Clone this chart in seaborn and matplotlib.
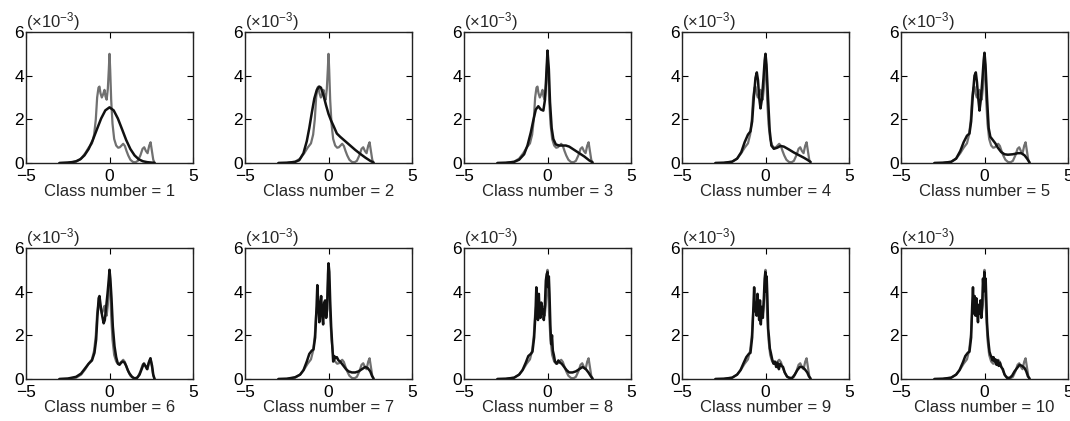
# Density curves vs. fitted mixtures for class numbers 1..10
import matplotlib
matplotlib.use("Agg")
import matplotlib.pyplot as plt
import seaborn as sns

sns.set_style("ticks")
plt.rcParams["font.family"] = ["Liberation Sans", "DejaVu Sans"]
plt.rcParams["mathtext.fontset"] = "custom"
plt.rcParams["mathtext.rm"] = "Liberation Sans"
plt.rcParams["mathtext.it"] = "Liberation Sans:italic"

# empirical density (gray), values in units of 1e-3
GRAY_X = [-3.0, -2.5, -2.0, -1.7, -1.45, -1.25, -1.05, -0.92, -0.82, -0.74, -0.66, -0.6, -0.54,
          -0.46, -0.38, -0.3, -0.24, -0.17, -0.1, -0.04, 0.0, 0.04, 0.1, 0.18, 0.28, 0.4, 0.52,
          0.62, 0.72, 0.82, 0.92, 1.02, 1.12, 1.25, 1.4, 1.55, 1.7, 1.85, 1.98, 2.08, 2.18, 2.28,
          2.38, 2.46, 2.54, 2.62, 2.7]
GRAY_Y = [0.0, 0.01, 0.06, 0.2, 0.45, 0.7, 0.9, 1.3, 2.0, 3.0, 3.45, 3.5, 3.2,
          3.0, 3.15, 3.35, 3.05, 2.9, 3.4, 4.3, 5.0, 4.3, 2.9, 1.8, 1.1, 0.8, 0.7,
          0.72, 0.8, 0.88, 0.78, 0.55, 0.35, 0.15, 0.05, 0.03, 0.1, 0.35, 0.65, 0.72, 0.55, 0.45,
          0.8, 0.95, 0.55, 0.15, 0.0]

# fitted curves (black), one per class number
FIT1_X = [-3.0, -2.75, -2.5, -2.25, -2.0, -1.75, -1.5, -1.25, -1.0, -0.75, -0.5, -0.25, 0.0,
          0.25, 0.5, 0.75, 1.0, 1.25, 1.5, 1.75, 2.0, 2.25, 2.5, 2.7]
FIT1_Y = [0.0, 0.01, 0.02, 0.04, 0.08, 0.17, 0.35, 0.64, 1.05, 1.55, 2.04, 2.41, 2.55,
          2.41, 2.04, 1.55, 1.05, 0.64, 0.35, 0.17, 0.08, 0.04, 0.02, 0.01]

FIT2_X = [-3.0, -2.5, -2.0, -1.75, -1.5, -1.3, -1.15, -1.0, -0.85, -0.7, -0.55, -0.45, -0.3,
          -0.15, 0.0, 0.15, 0.3, 0.5, 0.7, 1.0, 1.3, 1.6, 1.9, 2.2, 2.5, 2.7]
FIT2_Y = [0.0, 0.01, 0.05, 0.13, 0.45, 1.0, 1.6, 2.3, 2.95, 3.35, 3.5, 3.45, 3.1,
          2.65, 2.25, 1.95, 1.7, 1.35, 1.2, 1.0, 0.8, 0.6, 0.42, 0.25, 0.1, 0.02]

FIT3_X = [-3.0, -2.5, -2.0, -1.7, -1.4, -1.2, -1.0, -0.85, -0.7, -0.55, -0.4, -0.25, -0.15,
          -0.08, 0.0, 0.08, 0.15, 0.25, 0.35, 0.5, 0.7, 0.9, 1.1, 1.3, 1.6, 1.9, 2.2, 2.5, 2.7]
FIT3_Y = [0.0, 0.01, 0.05, 0.15, 0.4, 0.8, 1.4, 1.95, 2.45, 2.6, 2.45, 2.4, 2.9,
          3.9, 5.15, 4.3, 2.8, 1.6, 1.1, 0.85, 0.8, 0.8, 0.8, 0.75, 0.6, 0.45, 0.3, 0.12, 0.03]

FIT4_X = [-3.0, -2.5, -2.0, -1.7, -1.45, -1.25, -1.05, -0.9, -0.8, -0.7, -0.6, -0.52, -0.45,
          -0.38, -0.3, -0.22, -0.12, -0.05, 0.0, 0.06, 0.15, 0.25, 0.35, 0.5, 0.7, 0.9, 1.1,
          1.4, 1.7, 2.0, 2.3, 2.5, 2.7]
FIT4_Y = [0.0, 0.01, 0.06, 0.2, 0.5, 0.95, 1.3, 1.45, 1.9, 3.0, 3.9, 4.15, 3.8,
          3.0, 2.5, 2.9, 3.9, 4.7, 5.0, 4.5, 3.0, 1.5, 0.8, 0.65, 0.7, 0.78, 0.75,
          0.62, 0.48, 0.36, 0.24, 0.15, 0.05]

FIT5_X = [-3.0, -2.5, -2.0, -1.7, -1.45, -1.25, -1.05, -0.9, -0.8, -0.7, -0.6, -0.52, -0.45,
          -0.38, -0.3, -0.22, -0.12, -0.05, 0.0, 0.06, 0.15, 0.25, 0.35, 0.5, 0.65, 0.8, 1.0,
          1.2, 1.4, 1.7, 2.0, 2.2, 2.4, 2.55, 2.7]
FIT5_Y = [0.0, 0.01, 0.05, 0.2, 0.55, 0.95, 1.25, 1.35, 1.9, 3.1, 4.0, 4.15, 3.7,
          3.0, 2.4, 2.9, 3.9, 4.7, 5.05, 4.5, 3.0, 1.6, 1.2, 1.05, 0.9, 0.7, 0.5,
          0.4, 0.38, 0.4, 0.45, 0.45, 0.35, 0.2, 0.02]

FIT6_X = [-3.0, -2.5, -2.0, -1.7, -1.45, -1.25, -1.05, -0.9, -0.8, -0.72, -0.65, -0.6, -0.52,
          -0.44, -0.35, -0.28, -0.2, -0.12, -0.05, 0.0, 0.05, 0.12, 0.2, 0.3, 0.4, 0.5, 0.6,
          0.7, 0.8, 0.9, 1.0, 1.1, 1.2, 1.35, 1.5, 1.65, 1.8, 1.95, 2.05, 2.15, 2.25, 2.35,
          2.45, 2.55, 2.62, 2.7]
FIT6_Y = [0.0, 0.02, 0.1, 0.25, 0.5, 0.7, 0.85, 1.2, 1.8, 2.9, 3.7, 3.8, 3.3,
          2.9, 2.55, 2.7, 3.3, 3.9, 4.5, 5.0, 4.6, 3.7, 2.4, 1.5, 1.0, 0.7, 0.65,
          0.75, 0.8, 0.75, 0.6, 0.4, 0.25, 0.1, 0.03, 0.05, 0.2, 0.5, 0.7, 0.6, 0.45, 0.75,
          0.95, 0.6, 0.2, 0.0]

FIT7_X = [-3.0, -2.5, -2.0, -1.7, -1.5, -1.3, -1.15, -1.0, -0.9, -0.8, -0.72, -0.67, -0.6,
          -0.55, -0.5, -0.44, -0.38, -0.32, -0.26, -0.2, -0.14, -0.08, -0.03, 0.0, 0.05, 0.1,
          0.16, 0.22, 0.28, 0.35, 0.42, 0.5, 0.6, 0.7, 0.8, 0.9, 1.05, 1.2, 1.4, 1.6, 1.8,
          2.0, 2.2, 2.35, 2.5, 2.6, 2.7]
FIT7_Y = [0.0, 0.01, 0.08, 0.2, 0.4, 0.8, 1.15, 1.3, 1.35, 1.9, 3.2, 4.3, 3.3,
          2.6, 3.3, 3.8, 2.9, 2.5, 3.5, 3.6, 2.8, 3.2, 4.8, 5.3, 4.9, 3.6,
          2.4, 1.6, 0.8, 1.05, 0.95, 1.0, 0.85, 0.8, 0.7, 0.6, 0.45, 0.35, 0.3, 0.3, 0.35,
          0.45, 0.55, 0.5, 0.35, 0.15, 0.02]

FIT8_X = [-3.0, -2.5, -2.0, -1.7, -1.5, -1.3, -1.15, -1.0, -0.9, -0.8, -0.72, -0.67, -0.62,
          -0.57, -0.52, -0.47, -0.42, -0.37, -0.32, -0.27, -0.22, -0.16, -0.1, -0.05, 0.0,
          0.04, 0.08, 0.12, 0.17, 0.22, 0.27, 0.32, 0.38, 0.45, 0.55, 0.65, 0.75, 0.85, 1.0,
          1.15, 1.3, 1.5, 1.7, 1.9, 2.1, 2.3, 2.45, 2.6, 2.7]
FIT8_Y = [0.0, 0.01, 0.06, 0.2, 0.4, 0.75, 1.05, 1.15, 1.25, 1.9, 3.0, 4.2, 3.2,
          2.7, 3.9, 3.0, 2.8, 3.5, 3.0, 3.2, 2.7, 3.3, 4.5, 4.8, 4.9,
          4.2, 4.7, 3.9, 2.5, 1.6, 2.0, 1.3, 1.1, 0.8, 0.7, 0.85, 0.75, 0.7, 0.55,
          0.4, 0.3, 0.3, 0.35, 0.45, 0.55, 0.45, 0.3, 0.12, 0.02]

FIT9_X = [-3.0, -2.5, -2.0, -1.7, -1.5, -1.3, -1.15, -1.0, -0.9, -0.8, -0.73, -0.68, -0.63,
          -0.58, -0.53, -0.48, -0.43, -0.38, -0.33, -0.28, -0.22, -0.16, -0.1, -0.05, -0.01,
          0.03, 0.07, 0.11, 0.16, 0.21, 0.26, 0.32, 0.4, 0.48, 0.56, 0.64, 0.72, 0.8, 0.88,
          0.96, 1.05, 1.15, 1.3, 1.45, 1.6, 1.75, 1.9, 2.05, 2.2, 2.35, 2.5, 2.6, 2.7]
FIT9_Y = [0.0, 0.01, 0.06, 0.2, 0.4, 0.75, 1.0, 1.15, 1.2, 1.9, 3.2, 4.2, 3.1,
          3.4, 2.9, 3.9, 3.3, 2.7, 3.6, 2.5, 3.3, 2.8, 3.7, 4.6, 4.9,
          4.0, 4.7, 3.8, 2.3, 1.9, 1.4, 1.2, 0.9, 0.7, 0.8, 0.55, 0.75, 0.45, 0.7,
          0.6, 0.55, 0.3, 0.1, 0.05, 0.05, 0.2, 0.4, 0.55, 0.55, 0.45, 0.3, 0.12, 0.02]

FIT10_X = [-3.0, -2.5, -2.0, -1.7, -1.5, -1.3, -1.15, -1.0, -0.9, -0.8, -0.74, -0.69, -0.64,
           -0.59, -0.54, -0.49, -0.44, -0.39, -0.34, -0.29, -0.24, -0.19, -0.14, -0.09, -0.05,
           -0.01, 0.03, 0.07, 0.11, 0.15, 0.2, 0.25, 0.3, 0.36, 0.42, 0.48, 0.54, 0.6, 0.66,
           0.72, 0.78, 0.85, 0.92, 1.0, 1.1, 1.2, 1.35, 1.5, 1.65, 1.8, 1.95, 2.1, 2.25, 2.4,
           2.5, 2.6, 2.7]
FIT10_Y = [0.0, 0.01, 0.06, 0.2, 0.4, 0.75, 1.05, 1.2, 1.25, 1.9, 3.3, 4.2, 3.0,
           3.8, 2.9, 3.7, 3.1, 2.6, 3.4, 3.0, 3.6, 2.8, 3.4, 4.6, 4.0,
           4.9, 4.3, 4.6, 3.6, 2.6, 2.0, 1.6, 1.25, 1.1, 1.0, 0.85, 1.0, 0.8, 0.9,
           0.65, 0.85, 0.6, 0.75, 0.55, 0.45, 0.2, 0.05, 0.05, 0.15, 0.35, 0.5, 0.65, 0.6, 0.5,
           0.35, 0.12, 0.02]

FITS_X = [FIT1_X, FIT2_X, FIT3_X, FIT4_X, FIT5_X, FIT6_X, FIT7_X, FIT8_X, FIT9_X, FIT10_X]
FITS_Y = [FIT1_Y, FIT2_Y, FIT3_Y, FIT4_Y, FIT5_Y, FIT6_Y, FIT7_Y, FIT8_Y, FIT9_Y, FIT10_Y]
CLASS_NUMBERS = [1, 2, 3, 4, 5, 6, 7, 8, 9, 10]

W, H = 1070, 421
fig = plt.figure(figsize=(W / 100, H / 100), dpi=100)

lefts = [26, 245, 464, 682, 901]
tops = [32, 248]
aw, ah = 167, 131

for i, k in enumerate(CLASS_NUMBERS):
    r, c = divmod(i, 5)
    ax = fig.add_axes([lefts[c] / W, 1 - (tops[r] + ah) / H, aw / W, ah / H])
    sns.lineplot(x=GRAY_X, y=GRAY_Y, ax=ax, color="#707070", lw=1.6,
                 sort=False, estimator=None)
    sns.lineplot(x=FITS_X[i], y=FITS_Y[i], ax=ax, color="#111111", lw=1.8,
                 sort=False, estimator=None)
    ax.set_xlim(-5, 5)
    ax.set_ylim(0, 6)
    ax.set_xticks([-5, 0, 5])
    ax.set_yticks([0, 2, 4, 6])
    ax.tick_params(direction="in", top=True, right=True, length=4, width=0.8,
                   labelsize=12.5, colors="black")
    ax.tick_params(axis="x", pad=4)
    ax.tick_params(axis="y", pad=1.5)
    for s in ax.spines.values():
        s.set_visible(True)
        s.set_linewidth(1.0)
        s.set_color("#222222")
    ax.set_xlabel(f"Class number = {k}", fontsize=12, labelpad=0)
    ax.set_ylabel("")
    ax.text(0.0, 0.995, r"(×10$^{-3}$)", transform=ax.transAxes, ha="left",
            va="bottom", fontsize=12)

fig.savefig("out.png", dpi=100)
